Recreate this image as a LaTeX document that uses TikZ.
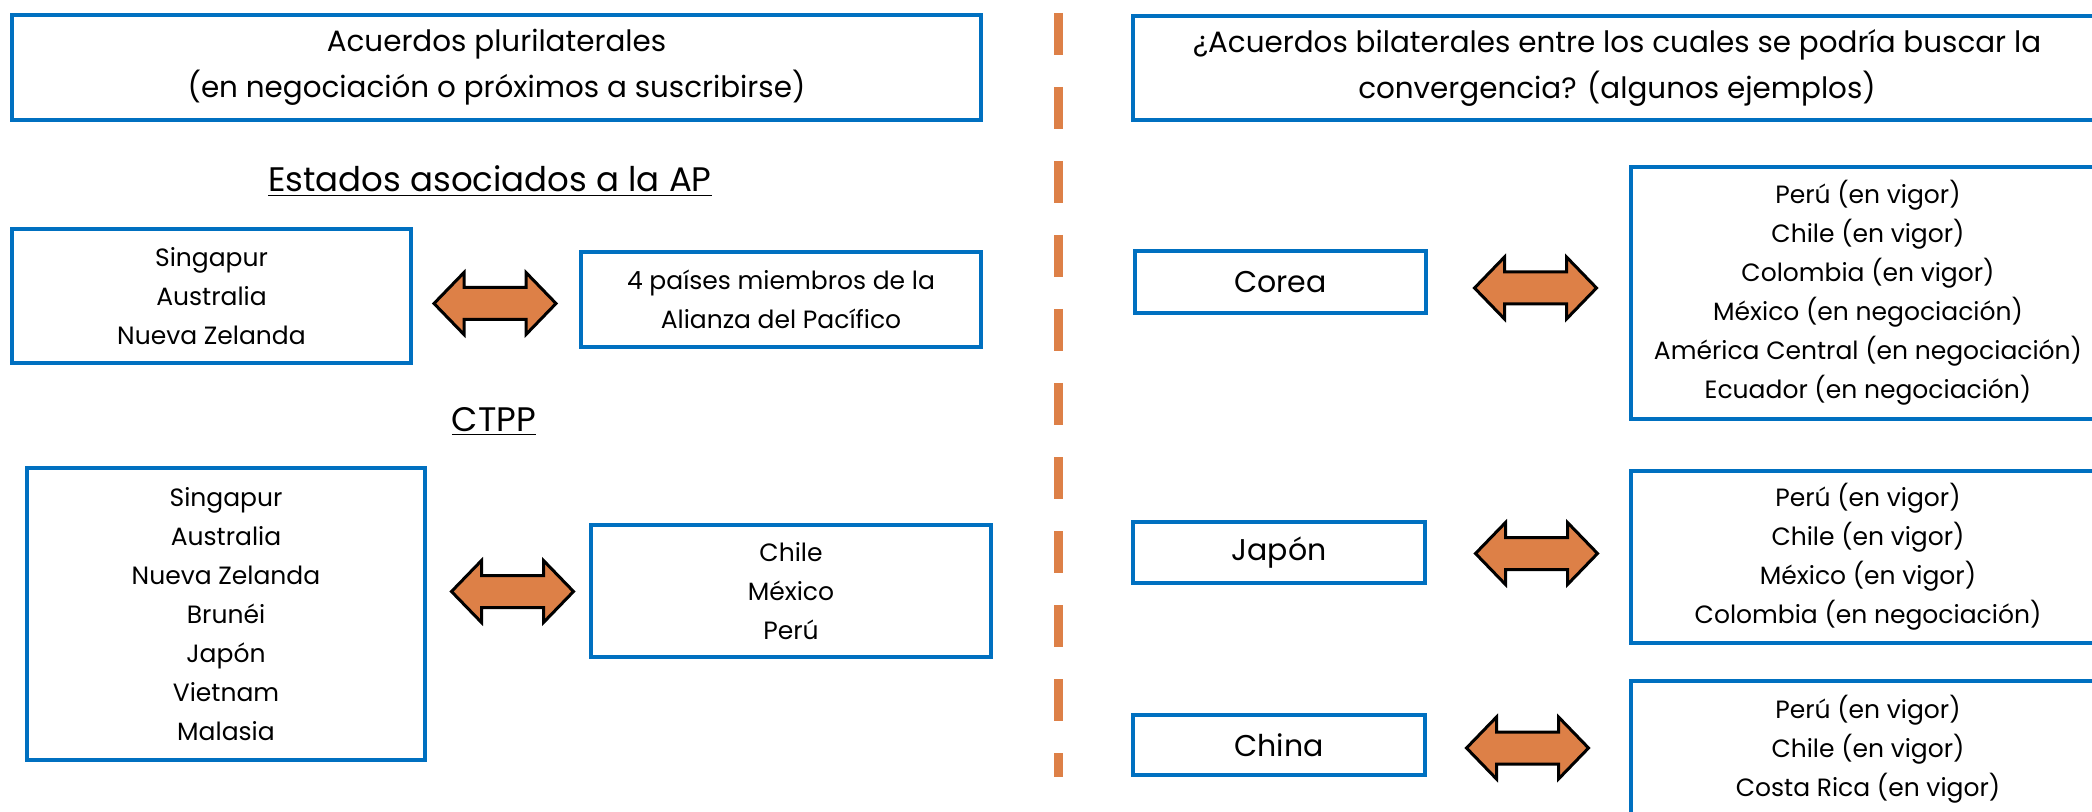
\documentclass[tikz,border=0pt]{standalone}
\usepackage{fontspec}
\setmainfont{Poppins}
\definecolor{boxblue}{HTML}{0070C0}
\definecolor{arrorange}{HTML}{DD8047}
\begin{document}
\begin{tikzpicture}[x=0.5pt,y=-0.5pt,
  box/.style={draw=boxblue, line width=2pt, fill=white, inner sep=0pt, align=center, text=black},
  listfont/.style={font=\fontsize{12.5pt}{19.5pt}\selectfont},
  namefont/.style={font=\fontsize{15pt}{19.5pt}\selectfont},
  titlefont/.style={font=\fontsize{14.7pt}{23pt}\selectfont},
  headfont/.style={font=\fontsize{17pt}{20pt}\selectfont, anchor=base},
  blockarrow/.style={draw=black, line width=1.5pt, fill=arrorange, line join=miter},
  bidir/.pic={\path[blockarrow] (-61,0) -- (-31,-31) -- (-31,-16) -- (31,-16) -- (31,-31)
     -- (61,0) -- (31,31) -- (31,16) -- (-31,16) -- (-31,31) -- cycle;},
  divider/.style={draw=arrorange, line width=4.5pt, dash pattern=on 21pt off 16pt}
]
\useasboundingbox (0,0) rectangle (2092,812);

% divider
\coordinate (dtop) at (1058,13);
\coordinate (dbot) at (1058,777);
\draw[divider] (dtop) -- (dbot);

% titles
\node[box, titlefont, minimum width=484.5pt, minimum height=52.5pt] (tl) at (496.5,67.5)
  {Acuerdos plurilaterales\\(en negociación o próximos a suscribirse)};
\node[box, titlefont, minimum width=484pt, minimum height=52pt] (tr) at (1617,68)
  {¿Acuerdos bilaterales entre los cuales se podría buscar la\\convergencia? (algunos ejemplos)};

% headings
\node[headfont] (hap) at (490,192) {\underline{Estados asociados a la AP}};
\node[headfont] (hctpp) at (494,431) {\underline{CTPP}};

% left side, AP
\node[box, listfont, minimum width=199.5pt, minimum height=67pt] (ap1) at (211.5,296)
  {Singapur\\Australia\\Nueva Zelanda};
\node[box, listfont, minimum width=200pt, minimum height=47.5pt] (ap2) at (781,299.5)
  {4 países miembros de la\\Alianza del Pacífico};
\pic (a1) at (495,303.5) {bidir};

% left side, CTPP
\node[box, listfont, minimum width=199pt, minimum height=146pt] (ct1) at (226,614)
  {Singapur\\Australia\\Nueva Zelanda\\Brunéi\\Japón\\Vietnam\\Malasia};
\node[box, listfont, minimum width=200pt, minimum height=66pt] (ct2) at (791,591)
  {Chile\\México\\Perú};
\pic (a2) at (512.5,591.5) {bidir};

% right side
\node[box, namefont, minimum width=145.5pt, minimum height=31pt] (co) at (1280.5,282) {Corea};
\node[box, listfont, minimum width=237pt, minimum height=126pt] (col) at (1868,293)
  {Perú (en vigor)\\Chile (en vigor)\\Colombia (en vigor)\\México (en negociación)\\América Central (en negociación)\\Ecuador (en negociación)};
\pic (a3) at (1535.5,288) {bidir};

\node[box, namefont, minimum width=146pt, minimum height=30.5pt] (ja) at (1279,552.5) {Japón};
\node[box, listfont, minimum width=237pt, minimum height=86pt] (jal) at (1868,557)
  {Perú (en vigor)\\Chile (en vigor)\\México (en vigor)\\Colombia (en negociación)};
\pic (a4) at (1536.5,553.5) {bidir};

\node[box, namefont, minimum width=146pt, minimum height=30pt] (ch) at (1279,745) {China};
\node[box, listfont, minimum width=237pt, minimum height=68pt] (chl) at (1868,749)
  {Perú (en vigor)\\Chile (en vigor)\\Costa Rica (en vigor)};
\pic (a5) at (1527.5,748) {bidir};
\end{tikzpicture}
\end{document}
